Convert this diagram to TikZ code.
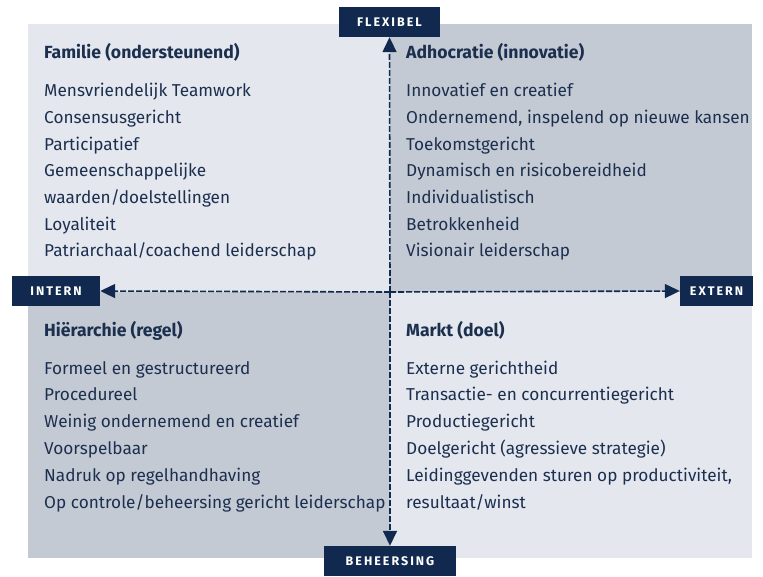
\documentclass[tikz,border=0pt]{standalone}
\usepackage{fontspec}
\setmainfont{Fira Sans}
\usetikzlibrary{arrows.meta}

\definecolor{navy}{HTML}{12294F}
\definecolor{ink}{HTML}{1C2F4F}
\definecolor{paleq}{HTML}{E4E8EE}
\definecolor{darkq}{HTML}{C3CAD4}

\tikzset{
  axislabel/.style={fill=navy,text=white,minimum height=30pt,inner xsep=0pt,
    font=\fontsize{12.5}{14}\selectfont\bfseries\addfontfeatures{LetterSpace=16}},
  quadtitle/.style={anchor=base west,inner sep=0pt,text=ink,font=\fontsize{17.6}{20}\selectfont\bfseries},
  quaditem/.style={anchor=base west,inner sep=0pt,text=ink,font=\fontsize{17.2}{20}\selectfont},
  axis/.style={navy,line width=1.6pt,dash pattern=on 6pt off 2pt,
    -{Triangle[length=15pt,width=14pt]}}
}

\begin{document}
\begin{tikzpicture}[x=1pt,y=-1pt]
  \useasboundingbox (0,0) rectangle (763,577);
  % the four quadrants
  \fill[paleq] (28,24) rectangle (390,292);
  \fill[darkq] (390,24) rectangle (752,292);
  \fill[darkq] (28,292) rectangle (390,558);
  \fill[paleq] (390,292) rectangle (752,558);
  \coordinate (o) at (390,292);

  % axis labels
  \node[axislabel,minimum width=101pt] (flex) at (389.5,22) {FLEXIBEL};
  \node[axislabel,minimum width=132pt] (beh) at (390,561) {BEHEERSING};
  \node[axislabel,minimum width=88pt] (int) at (56,291) {INTERN};
  \node[axislabel,minimum width=73pt] (ext) at (716.5,291) {EXTERN};

  % axes
  \draw[axis] (o) -- (flex.south);
  \draw[axis] (o) -- (beh.north);
  \draw[axis] (o) -- (int.east);
  \draw[axis] (o) -- (ext.west);

  % top left (baselines sit about 6pt under the line centres)
  \node[quadtitle] (fam) at (44,59) {Familie (ondersteunend)};
  \foreach \t [count=\i] in {Mensvriendelijk Teamwork,Consensusgericht,Participatief,
      Gemeenschappelijke,waarden/doelstellingen,Loyaliteit,Patriarchaal/coachend leiderschap}
    \node[quaditem] (fam-\i) at (44,{97+26.65*(\i-1)}) {\t};

  % top right
  \node[quadtitle] (adh) at (406,59) {Adhocratie (innovatie)};
  \foreach \t [count=\i] in {Innovatief en creatief,{Ondernemend, inspelend op nieuwe kansen},
      Toekomstgericht,Dynamisch en risicobereidheid,Individualistisch,Betrokkenheid,Visionair leiderschap}
    \node[quaditem] (adh-\i) at (406,{97+26.65*(\i-1)}) {\t};

  % bottom left
  \node[quadtitle] (hie) at (44,336) {Hiërarchie (regel)};
  \foreach \t [count=\i] in {Formeel en gestructureerd,Procedureel,Weinig ondernemend en creatief,
      Voorspelbaar,Nadruk op regelhandhaving,Op controle/beheersing gericht leiderschap}
    \node[quaditem] (hie-\i) at (44,{374+26.8*(\i-1)}) {\t};

  % bottom right
  \node[quadtitle] (mkt) at (406,336) {Markt (doel)};
  \foreach \t [count=\i] in {Externe gerichtheid,Transactie- en concurrentiegericht,Productiegericht,
      Doelgericht (agressieve strategie),{Leidinggevenden sturen op productiviteit,},resultaat/winst}
    \node[quaditem] (mkt-\i) at (406,{374+26.8*(\i-1)}) {\t};
\end{tikzpicture}
\end{document}
